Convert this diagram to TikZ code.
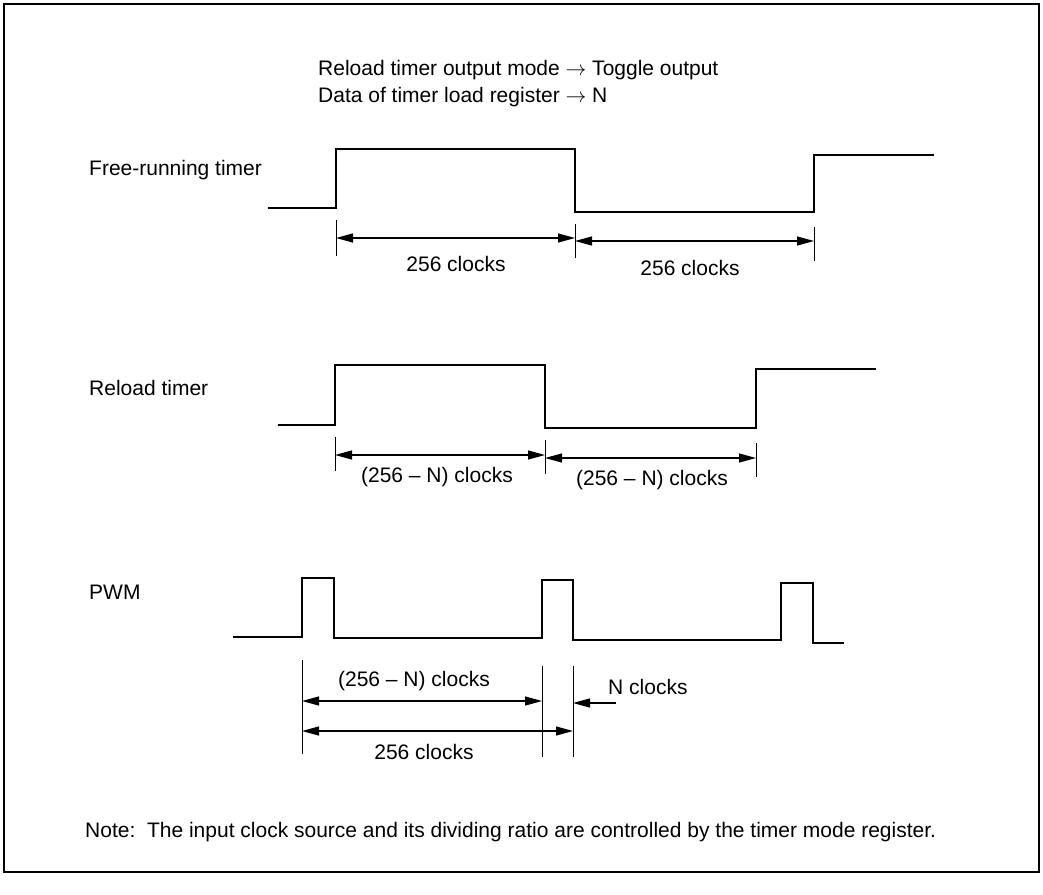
\documentclass[tikz,border=0pt]{standalone}
\usepackage{fontspec}
\setmainfont{Liberation Sans}
\usetikzlibrary{arrows.meta}
\tikzset{
    wave/.style={line width=2.3pt, line join=miter},
    dimtick/.style={line width=1pt},
    dimline/.style={line width=1.2pt, {Triangle[length=17pt,width=9pt]}-{Triangle[length=17pt,width=9pt]}},
    halfdim/.style={line width=1.2pt, -{Triangle[length=17pt,width=9pt]}},
    lbl/.style={inner sep=0pt, anchor=west, font=\fontsize{21}{25}\selectfont},
    dimlbl/.style={inner sep=0pt, font=\fontsize{21}{25}\selectfont},
}
\begin{document}
\begin{tikzpicture}[x=1pt,y=-1pt]
    \useasboundingbox (0,0) rectangle (1043,894);
    \draw[line width=1.5pt] (4,4) rectangle (1039,872);

    % header
    \node[lbl] (mode) at (318,70) {Reload timer output mode $\rightarrow$ Toggle output};
    \node[lbl] (data) at (318,97) {Data of timer load register $\rightarrow$ N};

    % free-running timer
    \node[lbl] (frt) at (89,170) {Free-running timer};
    \draw[wave] (268,208) -- (336,208) -- (336,149) -- (575,149) -- (575,212) -- (814,212) -- (814,155) -- (934,155);
    \coordinate (fa) at (336,238);
    \coordinate (fb) at (575,239);
    \coordinate (fc) at (814,241);
    \draw[dimtick] (336,220) -- (336,256);
    \draw[dimtick] (575,224) -- (575,258);
    \draw[dimtick] (814,227) -- (814,261);
    \draw[dimline] (fa) -- (fb |- fa);
    \draw[dimline] (fb |- fc) -- (fc);
    \node[dimlbl] (fl1) at (456,264) {256 clocks};
    \node[dimlbl] (fl2) at (690,268) {256 clocks};

    % reload timer
    \node[lbl] (rlt) at (89,388) {Reload timer};
    \draw[wave] (278,425) -- (335,425) -- (335,365) -- (545,365) -- (545,428) -- (756,428) -- (756,369) -- (876,369);
    \coordinate (ra) at (335,455);
    \coordinate (rb) at (545,456);
    \coordinate (rc) at (756,458);
    \draw[dimtick] (335,437) -- (335,471);
    \draw[dimtick] (545,440) -- (545,474);
    \draw[dimtick] (756,443) -- (756,477);
    \draw[dimline] (ra) -- (rb |- ra);
    \draw[dimline] (rb |- rc) -- (rc);
    \node[dimlbl] (rl1) at (437,477) {(256 – N) clocks};
    \node[dimlbl] (rl2) at (652,480) {(256 – N) clocks};

    % pwm
    \node[lbl] (pwm) at (89,592) {PWM};
    \draw[wave] (233,637) -- (302,637) -- (302,578) -- (334,578) -- (334,638) -- (542,638) -- (542,580) -- (573,580) -- (573,640)
        -- (781,640) -- (781,583) -- (813,583) -- (813,643) -- (844,643);
    \coordinate (pa) at (302,701);
    \coordinate (pb) at (542,701);
    \coordinate (pc) at (573,731);
    \coordinate (pn) at (616,703);
    \draw[dimtick] (302,660) -- (302,754);
    \draw[dimtick] (542,666) -- (542,757);
    \draw[dimtick] (573,666) -- (573,757);
    \draw[dimline] (pa) -- (pb);
    \draw[dimline] (pa |- pc) -- (pc);
    \draw[halfdim] (pn) -- (pc |- pn);
    \node[dimlbl] (pl1) at (414,681) {(256 – N) clocks};
    \node[lbl] (pl2) at (608,687) {N clocks};
    \node[dimlbl] (pl3) at (424,752) {256 clocks};

    % note
    \node[lbl] (note) at (85,832) {Note:\ \ The input clock source and its dividing ratio are controlled by the timer mode register.};
\end{tikzpicture}
\end{document}
